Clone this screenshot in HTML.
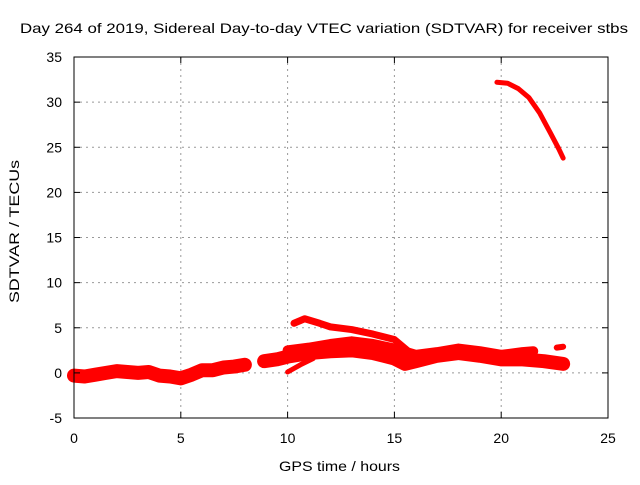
<!DOCTYPE html>
<html><head><meta charset="utf-8"><style>
body{margin:0;background:#fff}
svg text{font-family:"Liberation Sans",sans-serif;font-size:14px;fill:#000}
</style></head><body>
<svg width="640" height="480">
<rect width="640" height="480" fill="#fff"/>
<text x="20" y="33" font-size="16" textLength="608" lengthAdjust="spacingAndGlyphs">Day 264 of 2019, Sidereal Day-to-day VTEC variation (SDTVAR) for receiver stbs</text>
<text x="279" y="471" font-size="16" textLength="121" lengthAdjust="spacingAndGlyphs">GPS time / hours</text>
<text transform="translate(19,303) rotate(-90)" font-size="16" textLength="143" lengthAdjust="spacingAndGlyphs">SDTVAR / TECUs</text>
<g id="grid"></g><g id="series"></g>
<rect x="74" y="57" width="534" height="361" fill="none" stroke="#000"/>
<g id="ticks"></g>
</svg>
<script>
const xTicks=[0,5,10,15,20,25];
const yTicks=[-5,0,5,10,15,20,25,30,35];
const bandA_t=[0,0.5,1,1.5,2,2.5,3,3.5,4,4.5,5,5.5,6,6.5,7,7.5,8];
const bandA_v=[-0.3,-0.4,-0.2,0.0,0.2,0.1,0.0,0.1,-0.3,-0.4,-0.6,-0.2,0.3,0.3,0.6,0.7,0.9];
const bandB_t=[8.9,9.5,10,11,12,13,14,15,15.5,16,17,18,19,20,21,22,22.9];
const bandB_v=[1.3,1.5,1.8,2.2,2.4,2.5,2.2,1.6,1.0,1.3,1.9,2.2,1.9,1.5,1.5,1.3,1.0];
const bandC_t=[10,11,12,13,14,15,16,17,18,19,20,21,21.5];
const bandC_v=[2.5,2.8,3.2,3.5,3.2,2.7,2.0,2.3,2.7,2.4,2.0,2.3,2.4];
const bandD_t=[10.3,10.8,11.5,12,13,14,15,15.6];
const bandD_v=[5.5,6.0,5.5,5.1,4.8,4.3,3.7,2.5];
const bandE_t=[10.0,10.6,11.2];
const bandE_v=[0.1,0.9,1.6];
const curve_t=[19.8,20.3,20.8,21.3,21.8,22.3,22.7,22.9];
const curve_v=[32.2,32.1,31.5,30.5,28.8,26.6,24.8,23.8];
const blob_t=[22.6,22.9];
const blob_v=[2.8,2.9];
const X=t=>74+t*534/25, Y=v=>372.9-v*9.025;
const NS="http://www.w3.org/2000/svg";
const grid=document.getElementById('grid'),ticks=document.getElementById('ticks'),ser=document.getElementById('series');
function mk(tag,at,p){const e=document.createElementNS(NS,tag);for(const k in at)e.setAttribute(k,at[k]);p.appendChild(e);return e;}
xTicks.forEach(t=>{
 if(t>0&&t<25){const g=mk('line',{x1:X(t),x2:X(t),y1:57,y2:418,stroke:'#999','stroke-dasharray':'2,4'},grid);
 
 }
 mk('line',{x1:X(t),x2:X(t),y1:418,y2:412,stroke:'#000'},ticks);
 mk('line',{x1:X(t),x2:X(t),y1:57,y2:63,stroke:'#000'},ticks);
 const l=mk('text',{x:X(t),y:443,'text-anchor':'middle'},ticks);l.textContent=t;
 
 
});
yTicks.forEach(v=>{
 if(v>-5&&v<35){const g=mk('line',{x1:74,x2:608,y1:Y(v),y2:Y(v),stroke:'#999','stroke-dasharray':'2,4'},grid);
 
 }
 mk('line',{x1:74,x2:80,y1:Y(v),y2:Y(v),stroke:'#000'},ticks);
 mk('line',{x1:608,x2:602,y1:Y(v),y2:Y(v),stroke:'#000'},ticks);
 const l=mk('text',{x:62,y:Y(v)+5,'text-anchor':'end'},ticks);l.textContent=v;
 
 
});
function band(ts,vs,w,name){
 const pts=ts.map((t,i)=>X(t)+','+Y(vs[i])).join(' ');
 const p=mk('polyline',{points:pts,fill:'none',stroke:'#f00','stroke-width':w,'stroke-linejoin':'round','stroke-linecap':'round'},ser);
 
 
}
band(bandA_t,bandA_v,14,'series-band-morning');
band(bandB_t,bandB_v,14,'series-band-lower');
band(bandC_t,bandC_v,10,'series-band-upper');
band(bandD_t,bandD_v,7,'series-band-top');
band(bandE_t,bandE_v,5,'series-band-rise');
band(curve_t,curve_v,5,'series-high-curve');
band(blob_t,blob_v,6,'series-blob');
</script>
</body></html>
